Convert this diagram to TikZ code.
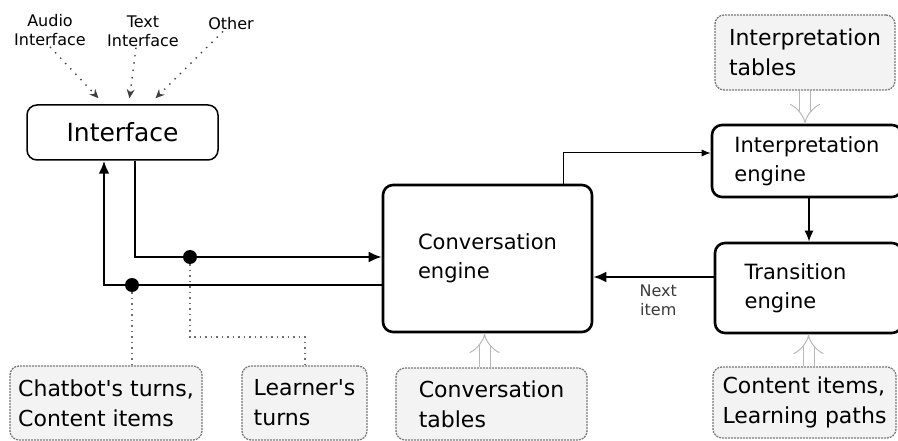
\documentclass[tikz,border=0pt]{standalone}
\usepackage{fontspec}
\setmainfont{DejaVu Sans}[Ligatures=TeXOff]
\usetikzlibrary{arrows.meta,positioning,calc}
\definecolor{tablefill}{HTML}{F3F3F3}
\definecolor{tableline}{HTML}{7A7A7A}
\definecolor{feedline}{HTML}{B8B8B8}
\definecolor{tapgray}{HTML}{6E6E6E}
\definecolor{labelgray}{HTML}{3A3A3A}
\tikzset{
  enginebox/.style={
    rectangle,
    rounded corners=10pt,
    draw=black,
    line width=2.6pt,
    fill=white,
    align=left,
    font=\fontsize{21}{29}\selectfont,
    inner sep=0pt
  },
  ifacebox/.style={enginebox, line width=1.5pt, font=\fontsize{25}{30}\selectfont},
  tablebox/.style={
    rectangle,
    rounded corners=9pt,
    draw=tableline,
    dash pattern=on 2pt off 1pt,
    line width=1.3pt,
    fill=tablefill,
    align=left,
    font=\fontsize{22}{30}\selectfont,
    inner sep=0pt
  },
  srclabel/.style={align=center, font=\fontsize{16}{19}\selectfont, inner sep=1pt},
  arrow/.style={-{Latex[length=13pt,width=11pt]}, line width=2.4pt},
  thinarrow/.style={-{Latex[length=9pt,width=7pt]}, line width=1pt},
  midarrow/.style={-{Latex[length=11pt,width=9pt]}, line width=1.6pt},
  srcarrow/.style={-{Stealth[length=9pt,width=8pt]}, dash pattern=on 1.4pt off 6pt, line width=1.4pt, draw=black!75},
  tapline/.style={dash pattern=on 1.5pt off 4pt, line width=1.5pt, draw=tapgray},
  feedarrow/.style={draw=feedline, double=white, double distance=10pt, line width=1pt, -{Implies}},
  junction/.style={circle, fill=black, inner sep=0pt, minimum size=14pt}
}
\begin{document}
\begin{tikzpicture}[x=1pt, y=-1pt]
  \useasboundingbox (0,0) rectangle (898,441);

  % input channels
  \node[srclabel] (audio) at (50,30) {Audio\\Interface};
  \node[srclabel] (textin) at (143,31) {Text\\Interface};
  \node[srclabel] (other) at (231,24) {Other};

  % engines
  \node[ifacebox, minimum width=191pt, minimum height=55pt] (iface) at (122.5,132.5) {Interface};
  \node[enginebox, minimum width=209pt, minimum height=147pt] (conv) at (487.5,258.5) {Conversation\\engine};
  \node[enginebox, minimum width=190pt, minimum height=72pt] (interp) at (807,161) {Interpretation\\engine};
  \node[enginebox, minimum width=187pt, minimum height=90pt] (trans) at (808.5,288) {\hspace*{-26pt}Transition\\\hspace*{-26pt}engine};

  % tables
  \node[tablebox, minimum width=180pt, minimum height=75pt] (itab) at (805,52.5) {Interpretation\\tables};
  \node[tablebox, minimum width=191pt, minimum height=72pt] (ctab) at (491.5,404) {Conversation\\tables};
  \node[tablebox, minimum width=183pt, minimum height=71pt] (content) at (804.5,402.5) {Content items,\\Learning paths};
  \node[tablebox, minimum width=192pt, minimum height=74pt] (chat) at (106,403) {Chatbot's turns,\\Content items};
  \node[tablebox, minimum width=125pt, minimum height=74pt] (learner) at (304.5,403) {Learner's\\turns};

  % junctions
  \node[junction] (jin) at (190,257) {};
  \node[junction] (jout) at (132,285) {};
  \coordinate (tapbend) at (305,337);

  \draw[srcarrow] (audio.south) -- ([xshift=-24pt,yshift=6pt]iface.north);
  \draw[srcarrow] ([xshift=-7pt]textin.south) -- ([xshift=7pt,yshift=6pt]iface.north);
  \draw[srcarrow] ([xshift=-8pt]other.south) -- ([xshift=33pt,yshift=6pt]iface.north);

  \draw[arrow] ([xshift=12.5pt]iface.south) |- ([yshift=1.5pt]conv.west);
  \draw[arrow] ([yshift=-26.5pt]conv.west) -| ([xshift=-18.5pt]iface.south);
  \draw[thinarrow] ([xshift=75.5pt]conv.north) |- ([yshift=8pt]interp.west);
  \draw[midarrow] ([xshift=2pt]interp.south) -- ([xshift=2pt]interp.south |- trans.north);
  \draw[arrow] ([yshift=11pt]trans.west) -- ([yshift=11pt]trans.west -| conv.east)
    node[pos=0.46, below=6pt, srclabel, text=labelgray] (nextlbl) {Next\\item};

  \draw[tapline] (jout) -- (jout |- chat.north);
  \draw[tapline] (jin) |- (tapbend) -- (tapbend |- learner.north);

  \draw[feedarrow] (itab.south) -- (itab.south |- interp.north);
  \draw[feedarrow] ([xshift=-7pt]ctab.north) -- ([xshift=-7pt]ctab.north |- conv.south);
  \draw[feedarrow] ([xshift=4pt]content.north) -- ([xshift=4pt]content.north |- trans.south);
\end{tikzpicture}
\end{document}
